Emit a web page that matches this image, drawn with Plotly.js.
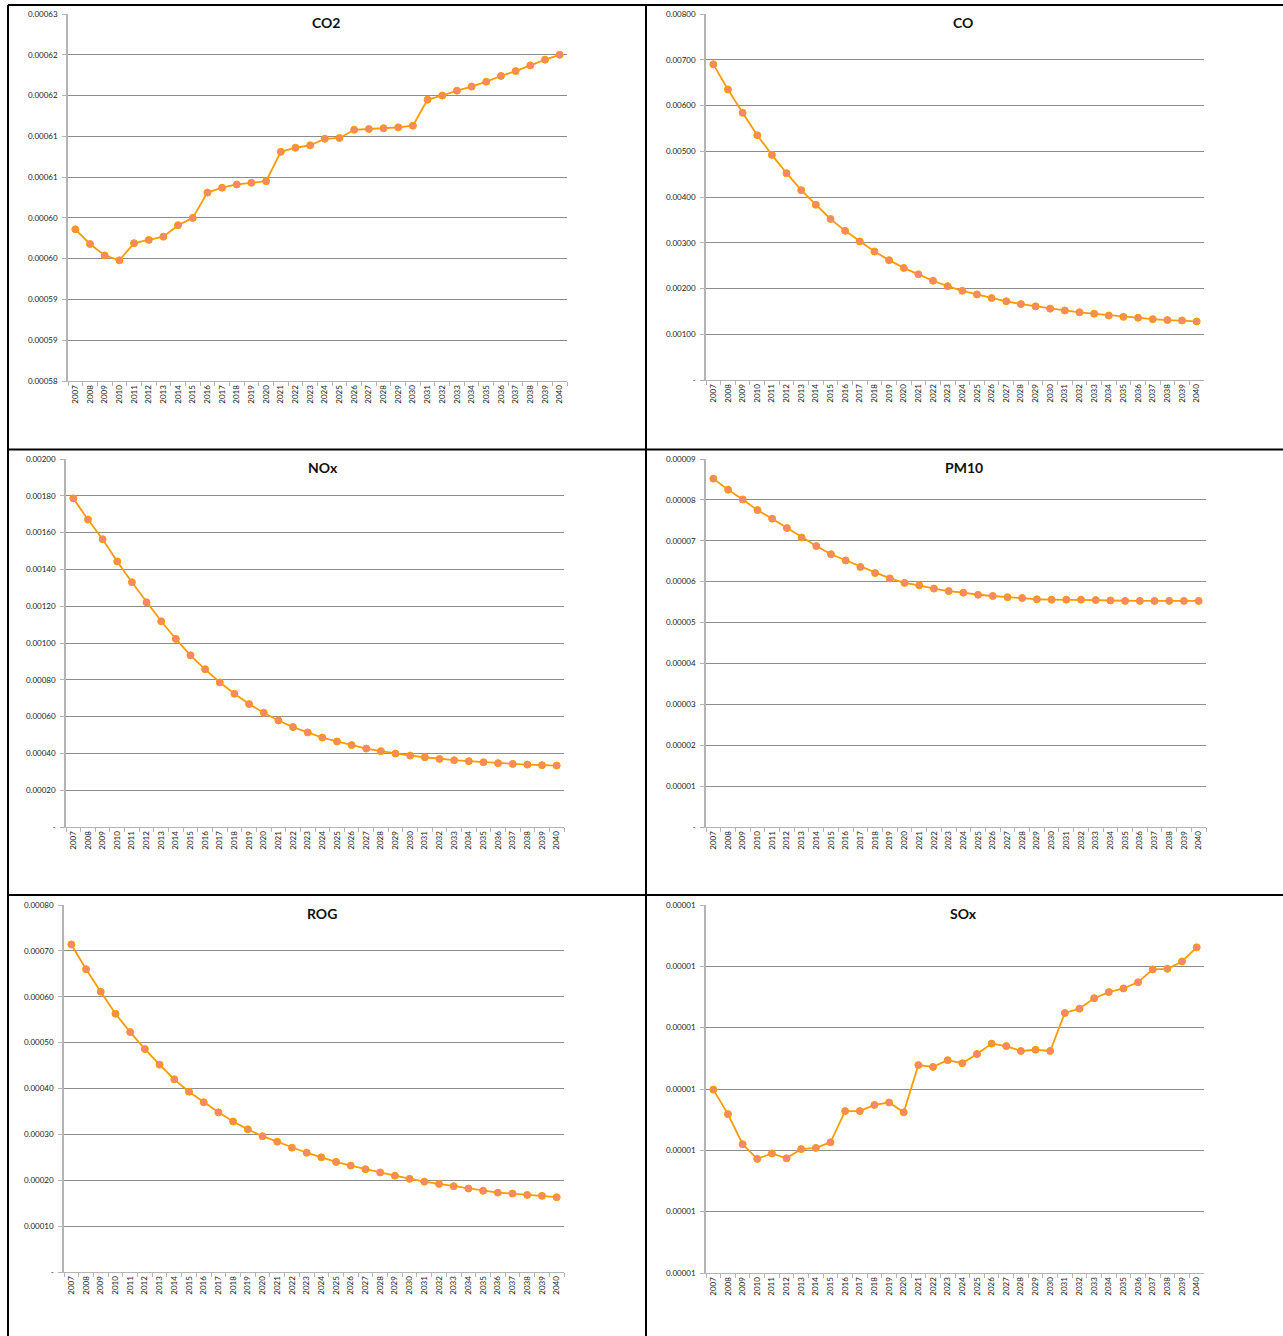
<!DOCTYPE html>
<html>
<head>
<meta charset="utf-8">
<script src="https://cdn.plot.ly/plotly-3.0.1.min.js"></script>
<style>
  html, body { margin: 0; padding: 0; background: white; }
  #chart { width: 1283px; height: 1336px; }
</style>
</head>
<body>
<div id="chart"></div>
<script>
// emission factors by year

const years = ['2007', '2008', '2009', '2010', '2011', '2012', '2013', '2014', '2015', '2016',
    '2017', '2018', '2019', '2020', '2021', '2022', '2023', '2024', '2025', '2026',
    '2027', '2028', '2029', '2030', '2031', '2032', '2033', '2034', '2035', '2036',
    '2037', '2038', '2039', '2040'];

const co2 = [0.0006036, 0.0006018, 0.0006004, 0.0005998, 0.0006019, 0.0006023, 0.0006027, 0.0006041,
    0.0006050, 0.0006081, 0.0006087, 0.0006091, 0.0006093, 0.0006095, 0.0006131, 0.0006136,
    0.0006139, 0.0006147, 0.0006148, 0.0006158, 0.0006159, 0.0006160, 0.0006161, 0.0006163,
    0.0006195, 0.0006200, 0.0006206, 0.0006211, 0.0006217, 0.0006224, 0.0006230, 0.0006237,
    0.0006244, 0.0006250];

const co = [0.00690, 0.00635, 0.00584, 0.00535, 0.00492, 0.00452, 0.00415, 0.00383, 0.00352, 0.00326,
    0.00303, 0.00281, 0.00262, 0.00245, 0.00231, 0.00217, 0.00205, 0.00195, 0.00187, 0.00179,
    0.00172, 0.00166, 0.00161, 0.00156, 0.00152, 0.00148, 0.00145, 0.00141, 0.00138, 0.00136,
    0.00133, 0.00131, 0.00130, 0.00128];

const nox = [0.001786, 0.001671, 0.001564, 0.001443, 0.001330, 0.001221, 0.001118, 0.001022, 0.000933,
    0.000857, 0.000786, 0.000724, 0.000668, 0.000621, 0.000579, 0.000543, 0.000514, 0.000486,
    0.000465, 0.000445, 0.000426, 0.000412, 0.000399, 0.000388, 0.000379, 0.000370, 0.000363,
    0.000358, 0.000352, 0.000347, 0.000343, 0.000339, 0.000336, 0.000334];

const pm10 = [0.0000852, 0.0000825, 0.0000801, 0.0000775, 0.0000754, 0.0000731, 0.0000708, 0.0000687,
    0.0000667, 0.0000652, 0.0000636, 0.0000621, 0.0000608, 0.0000597, 0.0000591, 0.0000583,
    0.0000577, 0.0000573, 0.0000568, 0.0000565, 0.0000562, 0.0000560, 0.0000557, 0.0000556,
    0.0000556, 0.0000556, 0.0000555, 0.0000554, 0.0000553, 0.0000553, 0.0000553, 0.0000553,
    0.0000553, 0.0000553];

const rog = [0.000714, 0.000660, 0.000611, 0.000563, 0.000523, 0.000486, 0.000452, 0.000420, 0.000393,
    0.000370, 0.000348, 0.000328, 0.000311, 0.000296, 0.000284, 0.000271, 0.000260, 0.000250,
    0.000240, 0.000232, 0.000224, 0.000217, 0.000210, 0.000203, 0.000197, 0.000192, 0.000187,
    0.000182, 0.000177, 0.000173, 0.000171, 0.000168, 0.000166, 0.000163];

const sox = [0.00000899, 0.00000859, 0.00000810, 0.00000786, 0.00000795, 0.00000787, 0.00000802,
    0.00000804, 0.00000813, 0.00000864, 0.00000864, 0.00000874, 0.00000878, 0.00000862,
    0.00000939, 0.00000936, 0.00000947, 0.00000942, 0.00000957, 0.00000974, 0.00000970,
    0.00000962, 0.00000964, 0.00000962, 0.00001024, 0.00001031, 0.00001048, 0.00001058,
    0.00001064, 0.00001074, 0.00001095, 0.00001096, 0.00001108, 0.00001131];

// y tick values and the labels as Excel rounded them
const co2Ticks = [0.000585, 0.000590, 0.000595, 0.000600, 0.000605, 0.000610, 0.000615, 0.000620, 0.000625, 0.000630];
const co2TickText = ['0.00058', '0.00059', '0.00059', '0.00060', '0.00060', '0.00061', '0.00061', '0.00062', '0.00062', '0.00063'];
const coTicks = [0, 0.001, 0.002, 0.003, 0.004, 0.005, 0.006, 0.007, 0.008];
const coTickText = ['-', '0.00100', '0.00200', '0.00300', '0.00400', '0.00500', '0.00600', '0.00700', '0.00800'];
const noxTicks = [0, 0.0002, 0.0004, 0.0006, 0.0008, 0.0010, 0.0012, 0.0014, 0.0016, 0.0018, 0.0020];
const noxTickText = ['-', '0.00020', '0.00040', '0.00060', '0.00080', '0.00100', '0.00120', '0.00140', '0.00160', '0.00180', '0.00200'];
const pm10Ticks = [0, 0.00001, 0.00002, 0.00003, 0.00004, 0.00005, 0.00006, 0.00007, 0.00008, 0.00009];
const pm10TickText = ['-', '0.00001', '0.00002', '0.00003', '0.00004', '0.00005', '0.00006', '0.00007', '0.00008', '0.00009'];
const rogTicks = [0, 0.0001, 0.0002, 0.0003, 0.0004, 0.0005, 0.0006, 0.0007, 0.0008];
const rogTickText = ['-', '0.00010', '0.00020', '0.00030', '0.00040', '0.00050', '0.00060', '0.00070', '0.00080'];
const soxTicks = [0.000006, 0.000007, 0.000008, 0.000009, 0.000010, 0.000011, 0.000012];
const soxTickText = ['0.00001', '0.00001', '0.00001', '0.00001', '0.00001', '0.00001', '0.00001'];

const W = 1283, H = 1336;
const px = x => x / W;
const py = y => 1 - y / H;

const panels = [
    { name: 'CO2',  y: co2,  ticks: co2Ticks,  text: co2TickText,  box: [68, 567, 14, 381],    titleX: 326 },
    { name: 'CO',   y: co,   ticks: coTicks,   text: coTickText,   box: [706, 1204, 14, 380],  titleX: 963 },
    { name: 'NOx',  y: nox,  ticks: noxTicks,  text: noxTickText,  box: [66, 564, 459, 827],   titleX: 323 },
    { name: 'PM10', y: pm10, ticks: pm10Ticks, text: pm10TickText, box: [706, 1206, 459, 827], titleX: 964 },
    { name: 'ROG',  y: rog,  ticks: rogTicks,  text: rogTickText,  box: [64, 564, 905, 1272],  titleX: 322 },
    { name: 'SOx',  y: sox,  ticks: soxTicks,  text: soxTickText,  box: [706, 1204, 905, 1273], titleX: 963 }
];

const tickFont = { family: 'Lato, "Liberation Sans", sans-serif', size: 8, color: '#222' };
const gridColor = '#8c8c8c';
const axisColor = '#b4b4b4';

const traces = [];
const layout = {
    width: W,
    height: H,
    margin: { l: 0, r: 0, t: 0, b: 0 },
    paper_bgcolor: 'white',
    plot_bgcolor: 'white',
    showlegend: false,
    annotations: [],
    shapes: []
};

panels.forEach((p, i) => {
    const n = i === 0 ? '' : String(i + 1);
    const [x0, x1, top, bottom] = p.box;

    traces.push({
        x: years,
        y: p.y,
        xaxis: 'x' + n,
        yaxis: 'y' + n,
        type: 'scatter',
        mode: 'lines+markers',
        line: { color: '#ff9a00', width: 1.8 },
        marker: { color: '#f8876c', size: 7, line: { color: '#ff9a00', width: 1 } },
        hovertemplate: '<b>' + p.name + '</b><br>%{x}: %{y:.7f}<extra></extra>'
    });

    layout['xaxis' + n] = {
        domain: [px(x0), px(x1)],
        anchor: 'y' + n,
        type: 'category',
        range: [-0.5, years.length - 0.5],
        tickangle: -90,
        tickfont: tickFont,
        ticks: 'outside',
        tickson: 'boundaries',
        ticklen: 4,
        tickcolor: axisColor,
        showgrid: false,
        showline: true,
        linecolor: axisColor,
        linewidth: 1,
        fixedrange: true
    };

    const lo = p.ticks[0], hi = p.ticks[p.ticks.length - 1];
    layout['yaxis' + n] = {
        domain: [py(bottom), py(top)],
        anchor: 'x' + n,
        range: [lo, hi],
        tickmode: 'array',
        tickvals: p.ticks,
        ticktext: p.text,
        tickfont: tickFont,
        ticks: 'outside',
        ticklen: 4,
        ticklabelstandoff: 3,
        tickcolor: axisColor,
        showgrid: true,
        gridcolor: gridColor,
        gridwidth: 1,
        zeroline: false,
        showline: true,
        linecolor: axisColor,
        linewidth: 1.5,
        fixedrange: true
    };

    layout.annotations.push({
        text: '<b>' + p.name + '</b>',
        xref: 'paper', yref: 'paper',
        x: px(p.titleX), y: py(top + 8),
        xanchor: 'center', yanchor: 'middle',
        showarrow: false,
        font: { family: 'Lato, "Open Sans", sans-serif', size: 14, color: '#111' }
    });
});

// table cell borders around the charts
const border = { color: '#000', width: 2 };
const hLines = [5, 449.5, 895];
hLines.forEach(y => {
    layout.shapes.push({ type: 'line', xref: 'paper', yref: 'paper',
        x0: px(8), x1: px(W), y0: py(y), y1: py(y), line: border });
});
[8, 646].forEach(x => {
    layout.shapes.push({ type: 'line', xref: 'paper', yref: 'paper',
        x0: px(x), x1: px(x), y0: py(5), y1: py(H), line: border });
});

Plotly.newPlot('chart', traces, layout, { displayModeBar: false, responsive: false });
</script>
</body>
</html>
